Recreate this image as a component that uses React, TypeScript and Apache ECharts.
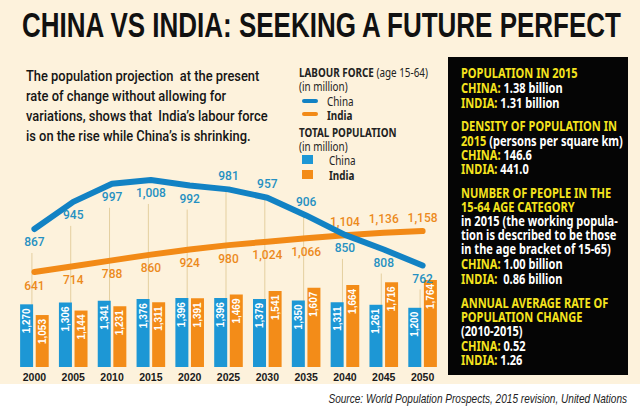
import React, { useEffect, useRef } from 'react';
import * as echarts from 'echarts';

// ---------- data ----------
const years = ['2000', '2005', '2010', '2015', '2020', '2025', '2030', '2035', '2040', '2045', '2050'];
const chinaLabour = [867, 945, 997, 1008, 992, 981, 957, 906, 850, 808, 762];
const indiaLabour = [641, 714, 788, 860, 924, 980, 1024, 1066, 1104, 1136, 1158];
const chinaPop = [1270, 1306, 1341, 1376, 1396, 1396, 1379, 1350, 1311, 1261, 1200];
const indiaPop = [1053, 1144, 1231, 1311, 1391, 1469, 1541, 1607, 1664, 1716, 1764];

// label placement (layout, not data)
const chinaLabelSide = ['bottom', 'bottom', 'bottom', 'bottom', 'bottom', 'top', 'top', 'top', 'bottom', 'bottom', 'bottom'];
const indiaLabelSide = ['bottom', 'bottom', 'bottom', 'bottom', 'bottom', 'bottom', 'bottom', 'bottom', 'top', 'top', 'top'];

const titleText = 'CHINA VS INDIA: SEEKING A FUTURE PERFECT';
const introLines = [
  'The population projection  at the present',
  'rate of change without allowing for',
  'variations, shows that  India\u2019s labour force',
  'is on the rise while China\u2019s is shrinking.',
];
const sourceText = 'Source: World Population Prospects, 2015 revision, United Nations';

// panel lines: segments [text, colour-key]
const panelLines: [string, string][][] = [
  [['POPULATION IN 2015', 'y']],
  [['CHINA:', 'y'], [' 1.38 billion', 'w']],
  [['INDIA:', 'y'], [' 1.31 billion', 'w']],
  [['DENSITY OF POPULATION IN', 'y']],
  [['2015', 'y'], [' (persons per square km)', 'w']],
  [['CHINA:', 'y'], [' 146.6', 'w']],
  [['INDIA:', 'y'], [' 441.0', 'w']],
  [['NUMBER OF PEOPLE IN THE', 'y']],
  [['15-64 AGE CATEGORY', 'y']],
  [['in 2015 (the working popula-', 'w']],
  [['tion is described to be those', 'w']],
  [['in the age bracket of 15-65)', 'w']],
  [['CHINA:', 'y'], [' 1.00 billion', 'w']],
  [['INDIA:', 'y'], ['  0.86 billion', 'w']],
  [['ANNUAL AVERAGE RATE OF', 'y']],
  [['POPULATION CHANGE', 'y']],
  [['(2010-2015)', 'w']],
  [['CHINA:', 'y'], [' 0.52', 'w']],
  [['INDIA:', 'y'], [' 1.26', 'w']],
];
const panelLineY = [73, 88, 103, 126, 141, 155, 169, 193, 207, 221, 235, 249, 264, 279, 303, 317, 331, 346, 360];

// ---------- styling ----------
const CREAM = '#FDF2DC';
const BLUE_LINE = '#1282C4';
const ORANGE_LINE = '#F28A17';
const BLUE_BAR = '#1D97D5';
const ORANGE_BAR = '#F38C18';
const BLUE_TXT = '#2590C2';
const ORANGE_TXT = '#EC8A1C';
const YELLOW = '#F4E31E';

const fmt = (v: number) => v.toLocaleString('en-US');

let measureCtx: CanvasRenderingContext2D | null = null;
function measure(text: string, font: string) {
  if (!measureCtx) measureCtx = document.createElement('canvas').getContext('2d');
  measureCtx!.font = font;
  return measureCtx!.measureText(text).width;
}

export default function App() {
  const ref = useRef<HTMLDivElement>(null);

  useEffect(() => {
    if (!ref.current) return;
    const chart = echarts.init(ref.current, undefined, { renderer: 'svg' });

    // --- text fitting ---
    const titleFont = 'bold 36px "Liberation Sans"';
    const titleK = 602 / measure(titleText, titleFont);

    const introFamily = 'Roboto';
    const introFont = `500 15px ${introFamily}`;
    const introK = 242 / measure(introLines[2], introFont);

    const panelFamily = '"Noto Sans"';
    const panelFont = `bold 14px ${panelFamily}`;
    const panelK = 156 / measure('DENSITY OF POPULATION IN', panelFont);

    const legFamily = '"Noto Sans"';
    const legK =
      129 /
      (measure('LABOUR FORCE', `bold 12px ${legFamily}`) + measure(' (age 15-64)', `12px ${legFamily}`));

    const srcFont = 'italic 13px "Liberation Sans"';
    const srcK = 299 / measure(sourceText, srcFont);

    const graphics: any[] = [];
    // white strip at bottom
    graphics.push({ type: 'rect', shape: { x: 0, y: 384, width: 640, height: 27 }, style: { fill: '#ffffff' }, silent: true });
    // title
    graphics.push({
      type: 'text', x: 22, y: 25, scaleX: titleK,
      style: { text: titleText, fontSize: 36, fontWeight: 'bold', fontFamily: 'Liberation Sans', fill: '#111', align: 'left', verticalAlign: 'middle' },
    });
    // intro paragraph
    introLines.forEach((t, i) => {
      graphics.push({
        type: 'text', x: 26, y: 76 + i * 20, scaleX: introK,
        style: { text: t, fontSize: 15, fontWeight: 500, fontFamily: introFamily, fill: '#151515', align: 'left', verticalAlign: 'middle' },
      });
    });
    // legend block
    const legTxt = (x: number, y: number, rich: string, richStyles: any) => ({
      type: 'text', x, y, scaleX: legK,
      style: { text: rich, rich: richStyles, fontSize: 12, fontFamily: 'Noto Sans', fill: '#222', align: 'left', verticalAlign: 'middle' },
    });
    const legRich = {
      b: { fontSize: 12, fontFamily: 'Noto Sans', fontWeight: 'bold', fill: '#222' },
      n: { fontSize: 12, fontFamily: 'Noto Sans', fontWeight: 'normal', fill: '#222' },
    };
    graphics.push(legTxt(299, 72, '{b|LABOUR FORCE}{n| (age 15-64)}', legRich));
    graphics.push(legTxt(299, 86, '{n|(in million)}', legRich));
    graphics.push({ type: 'line', shape: { x1: 304, y1: 101, x2: 316, y2: 101 }, style: { stroke: BLUE_LINE, lineWidth: 4, lineCap: 'round' } });
    graphics.push(legTxt(327, 101, '{n|China}', legRich));
    graphics.push({ type: 'line', shape: { x1: 304, y1: 114, x2: 316, y2: 114 }, style: { stroke: ORANGE_LINE, lineWidth: 4, lineCap: 'round' } });
    graphics.push(legTxt(327, 115, '{b|India}', legRich));
    graphics.push(legTxt(299, 132, '{b|TOTAL POPULATION}', legRich));
    graphics.push(legTxt(299, 146, '{n|(in million)}', legRich));
    graphics.push({ type: 'rect', shape: { x: 302, y: 155, width: 11, height: 9 }, style: { fill: BLUE_BAR } });
    graphics.push(legTxt(329, 160, '{n|China}', legRich));
    graphics.push({ type: 'rect', shape: { x: 302, y: 170, width: 11, height: 9 }, style: { fill: ORANGE_BAR } });
    graphics.push(legTxt(329, 175, '{b|India}', legRich));

    // black panel
    graphics.push({ type: 'rect', shape: { x: 448, y: 57, width: 180, height: 318 }, style: { fill: '#050505' } });
    const panelRich = {
      y: { fontSize: 14, fontFamily: 'Noto Sans', fontWeight: 'bold', fill: YELLOW },
      w: { fontSize: 14, fontFamily: 'Noto Sans', fontWeight: 'bold', fill: '#ffffff' },
    };
    panelLines.forEach((segs, i) => {
      const text = segs.map(([t, c]) => `{${c}|${t}}`).join('');
      graphics.push({
        type: 'text', x: 461, y: panelLineY[i], scaleX: panelK,
        style: { text, rich: panelRich, fontSize: 14, fontFamily: 'Noto Sans', fontWeight: 'bold', fill: '#fff', align: 'left', verticalAlign: 'middle' },
      });
    });
    // source
    graphics.push({
      type: 'text', x: 627, y: 398, scaleX: srcK,
      style: { text: sourceText, fontSize: 13, fontStyle: 'italic', fontFamily: 'Liberation Sans', fill: '#222', align: 'right', verticalAlign: 'middle' },
    });

    const lineLabel = (color: string) => ({
      show: true, color, fontSize: 12, fontFamily: 'Roboto', fontWeight: 500, distance: 7,
      formatter: (p: any) => fmt(p.value),
    });

    const barLabel = {
      show: true, position: 'insideTop', rotate: 90, align: 'right', verticalAlign: 'middle', distance: 4,
      color: '#fff', fontSize: 10, fontWeight: 'bold', fontFamily: 'Liberation Sans',
      formatter: (p: any) => fmt(p.value),
    };

    chart.setOption({
      animation: false,
      backgroundColor: CREAM,
      grid: { left: 15, right: 198, top: 140, bottom: 44, containLabel: false },
      xAxis: {
        type: 'category', data: years,
        axisLine: { show: false }, axisTick: { show: false }, splitLine: { show: false },
        axisLabel: { color: '#1a1a1a', fontSize: 10.5, fontWeight: 'bold', fontFamily: 'Liberation Sans', margin: 4 },
      },
      yAxis: [
        { type: 'value', min: 0, max: 4600, show: false, splitLine: { show: false } },
        { type: 'value', min: 470, max: 1123, show: false, splitLine: { show: false } },
        { type: 'value', min: -557, max: 2306, show: false, splitLine: { show: false } },
      ],
      graphic: { elements: graphics },
      series: [
        {
          type: 'custom', name: 'guides', yAxisIndex: 1, z: 1, silent: true,
          data: chinaLabour.map((v, i) => [i, v]),
          renderItem: (params: any, api: any) => {
            const i = api.value(0);
            const p = api.coord([i, api.value(1)]);
            const cs = params.coordSys;
            const y1 = chinaLabelSide[i] === 'bottom' ? p[1] + 24 : p[1];
            return {
              type: 'line',
              shape: { x1: p[0] - 2.5, y1, x2: p[0] - 2.5, y2: cs.y + cs.height },
              style: { stroke: '#E4CF9F', lineWidth: 1 },
            };
          },
        },
        {
          type: 'bar', name: 'China total population', yAxisIndex: 0, z: 2, data: chinaPop,
          barWidth: 13, barGap: '20%', itemStyle: { color: BLUE_BAR }, label: barLabel,
        },
        {
          type: 'bar', name: 'India total population', yAxisIndex: 0, z: 2, data: indiaPop,
          barWidth: 13, barGap: '20%', itemStyle: { color: ORANGE_BAR }, label: barLabel,
        },
        {
          type: 'line', name: 'China labour force', yAxisIndex: 1, z: 4,
          data: chinaLabour.map((v, i) => ({ value: v, label: { position: chinaLabelSide[i] } })),
          symbol: 'circle', symbolSize: 1, showSymbol: true,
          itemStyle: { color: BLUE_LINE },
          lineStyle: { color: BLUE_LINE, width: 6, cap: 'round', join: 'round' },
          label: lineLabel(BLUE_TXT),
        },
        {
          type: 'line', name: 'India labour force', yAxisIndex: 2, z: 3,
          data: indiaLabour.map((v, i) => ({ value: v, label: { position: indiaLabelSide[i] } })),
          symbol: 'circle', symbolSize: 1, showSymbol: true,
          itemStyle: { color: ORANGE_LINE },
          lineStyle: { color: ORANGE_LINE, width: 6, cap: 'round', join: 'round' },
          label: lineLabel(ORANGE_TXT),
        },
      ],
    });

    return () => chart.dispose();
  }, []);

  return <div ref={ref} style={{ position: 'fixed', left: 0, top: 0, width: 640, height: 411 }} />;
}
